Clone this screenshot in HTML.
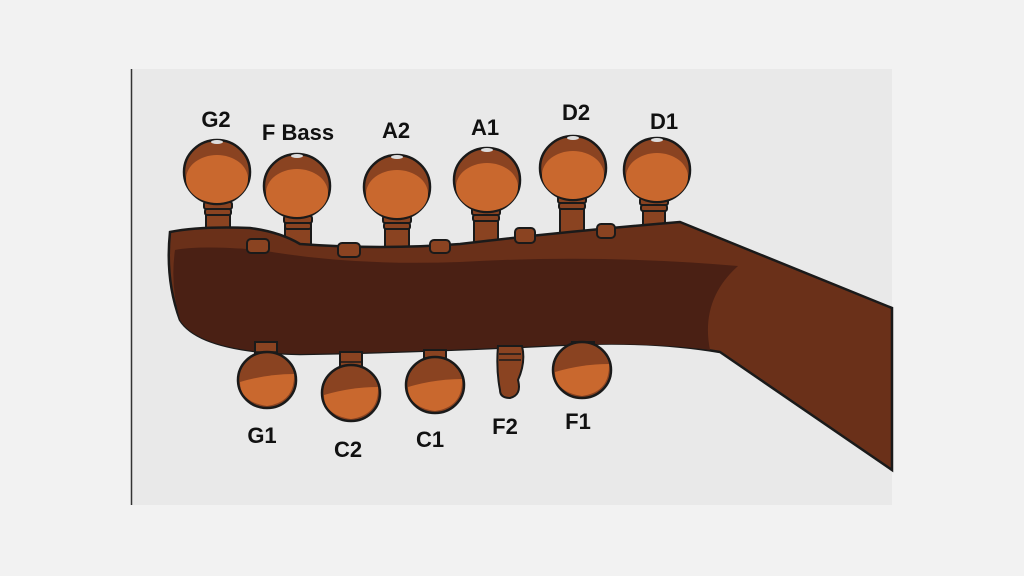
<!DOCTYPE html>
<html><head><meta charset="utf-8"><style>
html,body{margin:0;padding:0;background:#f2f2f2;width:1024px;height:576px;overflow:hidden}
svg{display:block}
text{font-family:"Liberation Sans",sans-serif;font-weight:bold;font-size:22px;fill:#111;text-anchor:middle}
</style></head><body>
<svg width="1024" height="576" viewBox="0 0 1024 576">
<rect x="131" y="69" width="761" height="436" fill="#e9e9e9"/>
<line x1="131.5" y1="69" x2="131.5" y2="505" stroke="#333" stroke-width="1.5"/>
<defs>
<g id="knobT">
<ellipse cx="0" cy="0" rx="33" ry="32" fill="#8a4321" stroke="#1a1a1a" stroke-width="2.5"/>
<ellipse cx="0" cy="7" rx="31" ry="24" fill="#c9682e"/>
<ellipse cx="0" cy="-30" rx="6" ry="2" fill="#ddd"/>
</g>
<g id="collar">
<rect x="-14" y="0" width="28" height="7" rx="2" fill="#8a4321" stroke="#1a1a1a" stroke-width="2"/>
<rect x="-13" y="7" width="26" height="6" rx="2" fill="#8a4321" stroke="#1a1a1a" stroke-width="2"/>
</g>
<g id="knobB">
<ellipse cx="0" cy="0" rx="29" ry="28" fill="#8a4321" stroke="#1a1a1a" stroke-width="2.5"/>
<path d="M-27,2 Q0,-6 27,-6 Q28,22 0,26 Q-27,22 -27,2Z" fill="#c9682e"/>
</g>
</defs>
<!-- stems top -->
<g fill="#8a4321" stroke="#1a1a1a" stroke-width="2">
<rect x="206" y="198" width="24" height="44"/>
<rect x="285" y="212" width="26" height="48"/>
<rect x="385" y="212" width="24" height="46"/>
<rect x="474" y="204" width="24" height="44"/>
<rect x="560" y="192" width="24" height="46"/>
<rect x="643" y="194" width="22" height="44"/>
</g>
<use href="#collar" x="218" y="202"/>
<use href="#collar" x="298" y="216"/>
<use href="#collar" x="397" y="216"/>
<use href="#collar" x="486" y="208"/>
<use href="#collar" x="572" y="196"/>
<use href="#collar" x="654" y="198"/>
<!-- headstock -->
<path d="M170,232 Q200,226 250,228 Q280,232 300,244 Q380,250 460,244 Q560,232 680,222 L892,308 L892,470 L720,352 Q650,340 560,345 Q420,352 300,354 Q200,352 180,320 Q165,280 170,232Z" fill="#6a3019" stroke="#1a1a1a" stroke-width="2.5"/>
<path d="M175,250 Q200,245 260,250 Q350,266 460,262 Q600,254 738,266 Q700,300 710,350 Q650,342 560,345 Q420,352 300,354 Q200,352 180,320 Q170,285 175,250Z" fill="#4a2014"/>
<!-- small bushings -->
<g fill="#8a4321" stroke="#1a1a1a" stroke-width="2">
<rect x="247" y="239" width="22" height="14" rx="4"/>
<rect x="338" y="243" width="22" height="14" rx="4"/>
<rect x="430" y="240" width="20" height="13" rx="4"/>
<rect x="515" y="228" width="20" height="15" rx="4"/>
<rect x="597" y="224" width="18" height="14" rx="4"/>
</g>
<!-- top knobs -->
<use href="#knobT" x="217" y="172"/>
<use href="#knobT" x="297" y="186"/>
<use href="#knobT" x="397" y="187"/>
<use href="#knobT" x="487" y="180"/>
<use href="#knobT" x="573" y="168"/>
<use href="#knobT" x="657" y="170"/>
<!-- bottom stems -->
<g fill="#8a4321" stroke="#1a1a1a" stroke-width="2">
<rect x="255" y="342" width="22" height="24"/>
<rect x="340" y="352" width="22" height="24"/>
<rect x="424" y="350" width="22" height="22"/>
<rect x="572" y="342" width="22" height="16"/>
<path d="M498,346 L522,346 Q526,362 518,380 Q522,395 510,398 Q500,398 500,390 Q496,370 498,346Z"/>
</g>
<g stroke="#1a1a1a" stroke-width="1.5">
<line x1="256" y1="352" x2="276" y2="352"/><line x1="256" y1="358" x2="276" y2="358"/>
<line x1="341" y1="362" x2="361" y2="362"/><line x1="341" y1="368" x2="361" y2="368"/>
<line x1="425" y1="358" x2="445" y2="358"/><line x1="425" y1="364" x2="445" y2="364"/>
<line x1="573" y1="348" x2="593" y2="348"/><line x1="573" y1="353" x2="593" y2="353"/>
<line x1="499" y1="354" x2="521" y2="354"/><line x1="499" y1="360" x2="521" y2="360"/>
</g>
<use href="#knobB" x="267" y="380"/>
<use href="#knobB" x="351" y="393"/>
<use href="#knobB" x="435" y="385"/>
<use href="#knobB" x="582" y="370"/>
<text x="216" y="127">G2</text>
<text x="298" y="140">F Bass</text>
<text x="396" y="138">A2</text>
<text x="485" y="135">A1</text>
<text x="576" y="120">D2</text>
<text x="664" y="129">D1</text>
<text x="262" y="443">G1</text>
<text x="348" y="457">C2</text>
<text x="430" y="447">C1</text>
<text x="505" y="434">F2</text>
<text x="578" y="429">F1</text>
</svg>
</body></html>
